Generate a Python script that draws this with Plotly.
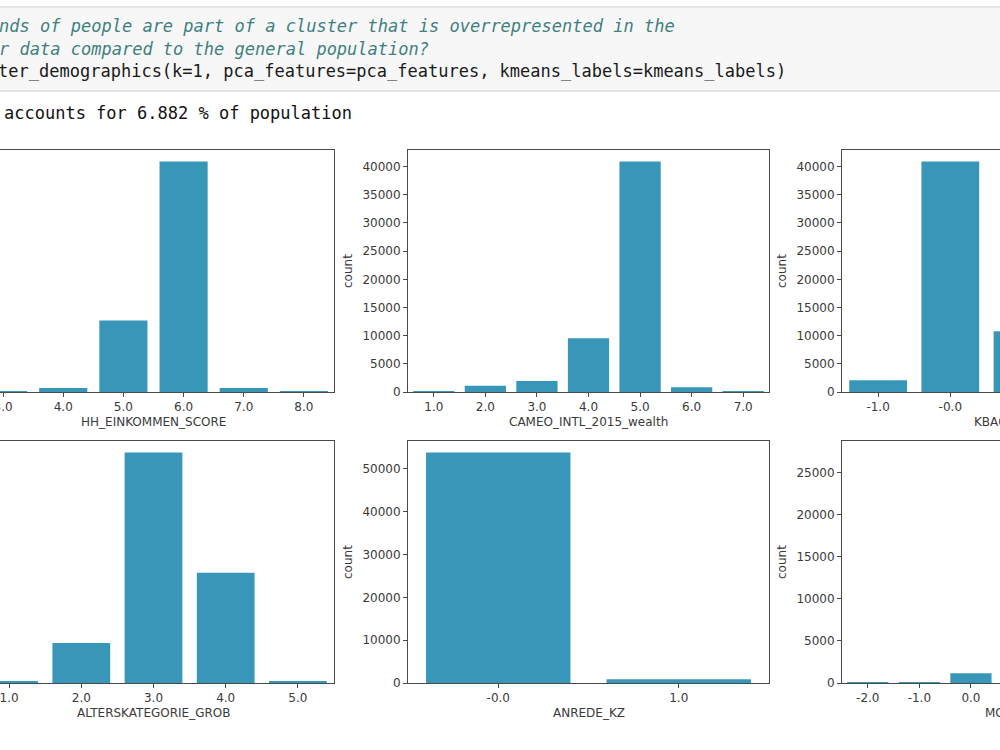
import plotly.graph_objects as go

W, H = 1000, 750

# ---------------- data ----------------
hh_cats = ["3.0", "4.0", "5.0", "6.0", "7.0", "8.0"]
hh_counts = [60, 700, 12700, 40900, 700, 40]

cameo_cats = ["1.0", "2.0", "3.0", "4.0", "5.0", "6.0", "7.0"]
cameo_counts = [40, 1100, 1950, 9550, 40900, 850, 40]

kba_cats = ["-1.0", "-0.0", "1.0", "2.0", "3.0"]
kba_counts = [2100, 40900, 10800, 600, 200]

alter_cats = ["1.0", "2.0", "3.0", "4.0", "5.0"]
alter_counts = [150, 5700, 32800, 15700, 150]

anrede_cats = ["-0.0", "1.0"]
anrede_counts = [53800, 900]

mobi_cats = ["-2.0", "-1.0", "0.0", "1.0", "2.0", "3.0", "4.0"]
mobi_counts = [30, 30, 1150, 27400, 18000, 7000, 1000]

# ---------------- notebook text ----------------
comment1 = "# What kinds of people are part of a cluster that is overrepresented in the"
comment2 = "# customer data compared to the general population?"
code_line = "plot_cluster_demographics(k=1, pca_features=pca_features, kmeans_labels=kmeans_labels)"
output_line = "accounts for 6.882 % of population"

BAR_COLOR = "#3897b9"
AX_COLOR = "#4a4a4a"
TXT_COLOR = "#3a3a3a"
MONO = "DejaVu Sans Mono"
SANS = "DejaVu Sans"


def px(x):
    return x / W


def py(y):
    return 1 - y / H


panels = [
    dict(cats=hh_cats, vals=hh_counts, label="HH_EINKOMMEN_SCORE", xs=(-27, 334), ys=(150, 392), dtick=5000),
    dict(cats=cameo_cats, vals=cameo_counts, label="CAMEO_INTL_2015_wealth", xs=(408, 769), ys=(150, 392), dtick=5000),
    dict(cats=kba_cats, vals=kba_counts, label="KBA05_BAUMAX", xs=(842, 1203), ys=(150, 392), dtick=5000),
    dict(cats=alter_cats, vals=alter_counts, label="ALTERSKATEGORIE_GROB", xs=(-27, 334), ys=(441, 683), dtick=5000),
    dict(cats=anrede_cats, vals=anrede_counts, label="ANREDE_KZ", xs=(408, 769), ys=(441, 683), dtick=10000),
    dict(cats=mobi_cats, vals=mobi_counts, label="MOBI_REGIO", xs=(842, 1203), ys=(441, 683), dtick=5000),
]

fig = go.Figure()
annotations = []
layout_axes = {}

for i, p in enumerate(panels, start=1):
    xa = "x" if i == 1 else f"x{i}"
    ya = "y" if i == 1 else f"y{i}"
    n = len(p["cats"])
    x0, x1 = p["xs"]
    unit = (x1 - x0) / n
    vis0, vis1 = max(0, x0), min(W, x1)
    rng = [-0.5 + (vis0 - x0) / unit, -0.5 + (vis1 - x0) / unit]
    dom_x = [px(vis0), px(vis1)]
    top, bot = p["ys"]
    dom_y = [py(bot), py(top)]
    ymax = max(p["vals"]) * 1.05

    fig.add_trace(go.Bar(
        x=p["cats"], y=p["vals"], xaxis=xa, yaxis=ya, width=0.8,
        marker=dict(color=BAR_COLOR, line=dict(width=0)),
        showlegend=False, hoverinfo="x+y",
    ))

    left_visible = x0 >= 0
    right_visible = x1 <= W

    layout_axes["xaxis" if i == 1 else f"xaxis{i}"] = dict(
        domain=dom_x, anchor=ya, type="category", range=rng,
        categoryorder="array", categoryarray=p["cats"],
        showline=True, mirror=True, linecolor=AX_COLOR, linewidth=1,
        ticks="outside", ticklen=4, tickcolor=AX_COLOR, tickwidth=1,
        tickfont=dict(family=SANS, size=12, color=TXT_COLOR),
        showgrid=False, zeroline=False, fixedrange=True, automargin=False,
    )
    if left_visible:
        layout_axes["yaxis" if i == 1 else f"yaxis{i}"] = dict(
            domain=dom_y, anchor=xa, range=[0, ymax], dtick=p["dtick"], tick0=0,
            tickformat="d",
            showline=True, mirror=right_visible, linecolor=AX_COLOR, linewidth=1,
            ticks="outside", ticklen=4, tickcolor=AX_COLOR, tickwidth=1,
            tickfont=dict(family=SANS, size=12, color=TXT_COLOR),
            showgrid=False, zeroline=False, fixedrange=True, automargin=False,
        )
        annotations.append(dict(
            text="count", xref="paper", yref="paper",
            x=px(x0 - 60), y=(dom_y[0] + dom_y[1]) / 2, textangle=-90,
            showarrow=False, xanchor="center", yanchor="middle",
            font=dict(family=SANS, size=12, color=TXT_COLOR),
        ))
    else:
        layout_axes["yaxis" if i == 1 else f"yaxis{i}"] = dict(
            domain=dom_y, anchor=xa, range=[0, ymax], side="right",
            showline=True, mirror=False, linecolor=AX_COLOR, linewidth=1,
            ticks="", showticklabels=False,
            showgrid=False, zeroline=False, fixedrange=True, automargin=False,
        )
    # x axis label, centred on the full (partly hidden) panel
    annotations.append(dict(
        text=p["label"], xref="paper", yref="paper",
        x=px((x0 + x1) / 2), y=py(bot + 30),
        showarrow=False, xanchor="center", yanchor="middle",
        font=dict(family=SANS, size=12, color=TXT_COLOR),
    ))

# notebook input cell text
CH = 10.2
X0 = -94
for txt, yy, col, ital in [
    (comment1, 26, "#408080", True),
    (comment2, 49, "#408080", True),
    (code_line, 71, "#1a1a1a", False),
]:
    annotations.append(dict(
        text=f"<i>{txt}</i>" if ital else txt, xref="paper", yref="paper",
        x=px(X0), y=py(yy), xanchor="left", yanchor="middle", showarrow=False,
        font=dict(family=MONO, size=17, color=col), borderpad=0, borderwidth=0,
    ))
annotations.append(dict(
    text=output_line, xref="paper", yref="paper",
    x=px(4), y=py(113), xanchor="left", yanchor="middle", showarrow=False,
    font=dict(family=MONO, size=17, color="#111111"), borderpad=0, borderwidth=0,
))

shapes = [dict(
    type="rect", xref="paper", yref="paper",
    x0=-0.02, x1=1.02, y0=py(91), y1=py(7),
    fillcolor="#f7f7f7", line=dict(color="#cfcfcf", width=1), layer="below",
)]

fig.update_layout(
    width=W, height=H, margin=dict(l=0, r=0, t=0, b=0, pad=0, autoexpand=False),
    paper_bgcolor="white", plot_bgcolor="white",
    annotations=annotations, shapes=shapes, bargap=0.2,
    **layout_axes,
)

fig.write_html("out.html", config={"displayModeBar": False})
